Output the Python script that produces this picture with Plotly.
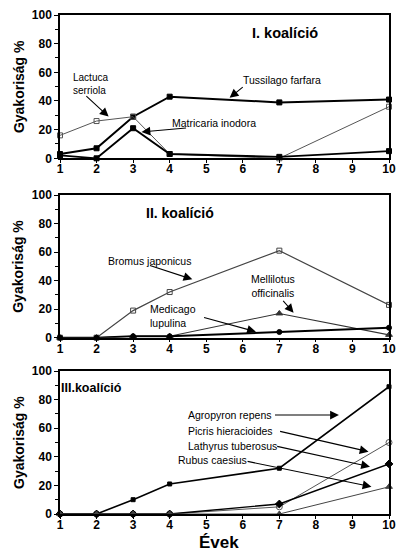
import plotly.graph_objects as go

# ---------------- data ----------------
years = [1, 2, 3, 4, 7, 10]

# I. koalíció
tussilago = [3, 7, 29, 43, 39, 41]
lactuca = [16, 26, 29, 3, 0, 36]
matricaria = [2, 0, 21, 3, 1, 5]

# II. koalíció
bromus = [0, 0, 19, 32, 61, 23]
mellilotus = [0, 0, 1, 1, 17, 2]
medicago = [0, 0, 1, 1, 4, 7]

# III. koalíció
agropyron = [0, 0, 10, 21, 32, 89]
picris = [0, 0, 0, 0, 5, 50]
lathyrus = [0, 0, 0, 0, 7, 35]
rubus = [0, 0, 0, 0, 0, 19]

x_ticks = list(range(1, 11))
y_ticks = [0, 20, 40, 60, 80, 100]

panel_titles = ["I. koalíció", "II. koalíció", "III.koalíció"]
y_title = "Gyakoriság %"
x_title = "Évek"

# ---------------- figure ----------------
W, H = 403, 553
L, R, T, B = 59.5, 7, 15, 39
FONT = "Liberation Sans, Arial, sans-serif"

fig = go.Figure()

def add(name, y, axis, color="black", width=1.6, symbol="square", msize=5, mfill=None):
    fig.add_trace(go.Scatter(
        x=years, y=y, name=name, mode="lines+markers",
        xaxis="x" + axis, yaxis="y" + axis,
        line=dict(color=color, width=width),
        marker=dict(symbol=symbol, size=msize, color=mfill or color,
                    line=dict(color=color, width=1)),
        showlegend=False, hoverinfo="x+y+name", cliponaxis=False))

# panel 1 (axis suffix "")
add("Tussilago farfara", tussilago, "", width=2.0, symbol="square", msize=5)
add("Lactuca serriola", lactuca, "", color="#555555", width=1.0, symbol="square-open", msize=5)
add("Matricaria inodora", matricaria, "", width=1.8, symbol="square", msize=5)
# panel 2
add("Bromus japonicus", bromus, "2", color="#444444", width=1.2, symbol="square-open", msize=5)
add("Mellilotus officinalis", mellilotus, "2", color="#333333", width=1.1, symbol="triangle-up", msize=6)
add("Medicago lupulina", medicago, "2", width=2.0, symbol="circle", msize=5)
# panel 3
add("Agropyron repens", agropyron, "3", width=1.6, symbol="square", msize=4)
add("Picris hieracioides", picris, "3", color="#555555", width=1.0, symbol="circle-open", msize=6)
add("Lathyrus tuberosus", lathyrus, "3", width=1.4, symbol="diamond", msize=6)
add("Rubus caesius", rubus, "3", color="#444444", width=1.0, symbol="triangle-up", msize=6)

plot_h = H - T - B
def dom(top_px, bot_px):
    return [(H - B - bot_px) / plot_h, (H - B - top_px) / plot_h]

domains = [dom(15, 158.3), dom(195, 337.7), dom(371, 514)]
suffixes = ["", "2", "3"]

axis_common = dict(showline=True, linecolor="black", linewidth=1.5, mirror=True,
                   showgrid=False, zeroline=False, ticks="outside", ticklen=4,
                   tickwidth=1.3, tickcolor="black",
                   tickfont=dict(family=FONT, size=12, color="black", weight="bold"))

for i, s in enumerate(suffixes):
    fig.update_layout(**{
        "xaxis" + s: dict(axis_common, range=[1, 10], tickvals=x_ticks, domain=[0, 1],
                          anchor="y" + s, ticklen=3, ticklabelstandoff=-4),
        "yaxis" + s: dict(axis_common, range=[0, 100], tickvals=y_ticks, domain=domains[i],
                          anchor="x" + s,
                          minor=dict(tickvals=[10, 30, 50, 70, 90], ticks="outside",
                                     ticklen=3, tickcolor="black", tickwidth=1.2)),
    })

ann = []
def txt(text, x, y, axis, size=10.5, xanchor="left", bold=False, align="left"):
    ann.append(dict(text=text, x=x, y=y, xref="x" + axis, yref="y" + axis,
                    showarrow=False, xanchor=xanchor, yanchor="middle", align=align,
                    font=dict(family=FONT, size=size, color="black",
                              weight="bold" if bold else "normal")))

def arrow(x0, y0, x1, y1, axis):
    ann.append(dict(text="", x=x1, y=y1, ax=x0, ay=y0, xref="x" + axis, yref="y" + axis,
                    axref="x" + axis, ayref="y" + axis, showarrow=True,
                    arrowhead=2, arrowsize=1.6, arrowwidth=1.1, arrowcolor="black"))

# panel titles
txt(panel_titles[0], 7.16, 87.6, "", size=14.5, xanchor="center", bold=True)
txt(panel_titles[1], 4.29, 87.4, "2", size=14, xanchor="center", bold=True)
txt(panel_titles[2], 1.85, 87.9, "3", size=12.5, xanchor="center", bold=True)

# panel 1 labels
txt("Lactuca<br>serriola", 1.30, 52, "", size=10)
arrow(1.68, 44.3, 2.33, 29.1, "")
txt("Tussilago farfara", 5.96, 54.7, "", size=10.5)
arrow(6.04, 50.5, 5.64, 42.2, "")
txt("Matricaria inodora", 4.01, 24.7, "", size=10.5)
arrow(4.49, 21.2, 3.23, 18.4, "")

# panel 2 labels
txt("Bromus japonicus", 2.26, 54, "2", size=10.5)
arrow(3.42, 50.9, 4.62, 40.9, "2")
txt("Medicago<br>lupulina", 3.42, 15.2, "2", size=10.5)
arrow(4.90, 14.5, 6.36, 4.2, "2")
txt("Mellilotus<br>officinalis", 6.84, 36.2, "2", size=10.5, xanchor="center", align="center")
arrow(7.07, 26.9, 7.39, 17.5, "2")

# panel 3 labels
txt("Agropyron repens", 4.44, 69.2, "3", size=10.5)
arrow(6.84, 69.2, 8.63, 69.2, "3")
txt("Picris hieracioides", 4.44, 58, "3", size=10.5)
arrow(6.98, 58, 9.44, 43.6, "3")
txt("Lathyrus tuberosus", 4.44, 47.8, "3", size=10.5)
arrow(6.90, 47.5, 9.48, 33.1, "3")
txt("Rubus caesius", 4.18, 37.8, "3", size=10.5)
arrow(6.09, 37.0, 9.52, 19.1, "3")

# y titles
plot_w = W - L - R
for i in range(3):
    d = domains[i]
    ann.append(dict(text=y_title, x=(17 - L) / plot_w, y=(d[0] + d[1]) / 2,
                    xref="paper", yref="paper", showarrow=False, textangle=-90,
                    xanchor="center", yanchor="middle",
                    font=dict(family=FONT, size=14, color="black", weight="bold")))
# x title
ann.append(dict(text=x_title, x=(222 - L) / plot_w, y=(H - B - 542) / plot_h,
                xref="paper", yref="paper", showarrow=False,
                xanchor="center", yanchor="middle",
                font=dict(family=FONT, size=17, color="black", weight="bold")))

fig.update_layout(width=W, height=H, margin=dict(l=L, r=R, t=T, b=B),
                  paper_bgcolor="white", plot_bgcolor="white",
                  annotations=ann, font=dict(family=FONT, color="black"))

fig.write_html("out.html", config={"displayModeBar": False},
               post_script="document.body.style.margin='0';document.body.style.overflow='hidden';")
